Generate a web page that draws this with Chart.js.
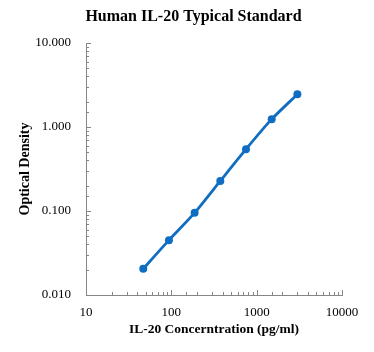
<!DOCTYPE html>
<html>
<head>
<meta charset="utf-8">
<script src="https://cdn.jsdelivr.net/npm/chart.js@4/dist/chart.umd.min.js"></script>
<style>
  html, body { margin: 0; padding: 0; background: #fff; }
  #wrap { width: 374px; height: 352px; }
</style>
</head>
<body>
<div id="wrap"><canvas id="canvas-std-curve" width="374" height="352"></canvas></div>
<script>
// standard curve values
const concentrations = [46.875, 93.75, 187.5, 375, 750, 1500, 3000];
const opticalDensity = [0.0205, 0.045, 0.095, 0.228, 0.545, 1.24, 2.45];
const xTickLabels = ['10', '100', '1000', '10000'];
const yTickLabels = ['0.010', '0.100', '1.000', '10.000'];

const axisGray = '#868686';
const blue = '#0F6EC2';
const serif = "'Liberation Serif', 'Times New Roman', serif";

function isDecade(v) {
  const l = Math.log10(v);
  return Math.abs(l - Math.round(l)) < 1e-9;
}

// small tick marks drawn inside the plot area, as in the original
const insideTicks = {
  id: 'insideTicks',
  afterDraw(chart) {
    const c = chart.ctx;
    const area = chart.chartArea;
    c.save();
    c.strokeStyle = axisGray;
    c.lineWidth = 1;
    chart.scales.x.ticks.forEach((t) => {
      const px = Math.round(chart.scales.x.getPixelForValue(t.value)) + 0.5;
      const len = isDecade(t.value) ? 5 : 3;
      c.beginPath();
      c.moveTo(px, area.bottom);
      c.lineTo(px, area.bottom - len);
      c.stroke();
    });
    chart.scales.y.ticks.forEach((t) => {
      const py = Math.round(chart.scales.y.getPixelForValue(t.value)) + 0.5;
      const len = isDecade(t.value) ? 5 : 3;
      c.beginPath();
      c.moveTo(area.left, py);
      c.lineTo(area.left + len, py);
      c.stroke();
    });
    c.restore();
  },
};

const points = concentrations.map((x, i) => ({ x: x, y: opticalDensity[i] }));

// eslint-disable-next-line
const chart = new Chart(document.getElementById('canvas-std-curve'), {
  type: 'scatter',
  data: {
    datasets: [{
      data: points,
      showLine: true,
      borderColor: blue,
      backgroundColor: blue,
      borderWidth: 2.8,
      pointRadius: 4,
      pointBorderWidth: 0,
      tension: 0.2,
    }],
  },
  options: {
    responsive: false,
    animation: false,
    layout: { padding: { left: 13, right: 0, top: 0, bottom: 0 } },
    plugins: {
      legend: { display: false },
      tooltip: { enabled: false },
      title: {
        display: true,
        text: 'Human IL-20 Typical Standard',
        color: '#000',
        font: { family: serif, size: 16, weight: 'bold' },
        padding: { top: 7, bottom: 16.8 },
      },
    },
    scales: {
      x: {
        type: 'logarithmic',
        min: 10,
        max: 10000,
        grid: { display: false },
        border: { display: true, color: axisGray, width: 1 },
        ticks: {
          autoSkip: false,
          maxRotation: 0,
          padding: 2,
          color: '#000',
          font: { family: serif, size: 13 },
          callback: (v) => (isDecade(v) && xTickLabels.includes(String(v)) ? String(v) : ''),
        },
        title: {
          display: true,
          text: 'IL-20 Concerntration (pg/ml)',
          color: '#000',
          font: { family: serif, size: 13.5, weight: 'bold' },
          padding: { top: 0, bottom: 14 },
        },
        afterFit: (s) => { s.height = 57; },
      },
      y: {
        type: 'logarithmic',
        min: 0.01,
        max: 10,
        grid: { display: false },
        border: { display: true, color: axisGray, width: 1 },
        ticks: {
          autoSkip: false,
          padding: 7,
          color: '#000',
          font: { family: serif, size: 13 },
          callback: (v) => {
            const s = Number(v).toFixed(3);
            return isDecade(v) && yTickLabels.includes(s) ? s : '';
          },
        },
        title: {
          display: true,
          text: 'Optical Density',
          color: '#000',
          font: { family: serif, size: 14, weight: 'bold' },
          padding: { top: 4, bottom: 0 },
        },
        afterFit: (s) => { s.width = 73; },
      },
      // empty axis on the right, only reserves room so the title stays centred on the page
      spacer: {
        type: 'linear',
        position: 'right',
        display: true,
        grid: { display: false },
        border: { display: false },
        ticks: { display: false },
        afterFit: (s) => { s.width = 32; },
      },
    },
  },
  plugins: [insideTicks],
});
</script>
</body>
</html>
